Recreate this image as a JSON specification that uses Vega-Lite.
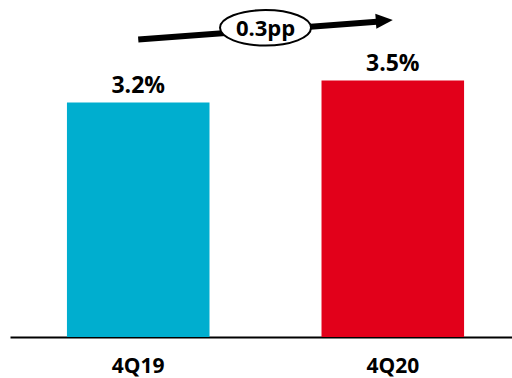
{
  "$schema": "https://vega.github.io/schema/vega-lite/v6.json",
  "width": 502,
  "height": 337,
  "autosize": {"type": "none"},
  "padding": {"left": 10, "right": 0, "top": 0, "bottom": 41},
  "background": "white",
  "config": {
    "view": {"stroke": null},
    "font": "Open Sans"
  },
  "datasets": {
    "rates": [
      {"period": "4Q19", "share": 0.032},
      {"period": "4Q20", "share": 0.035}
    ],
    "shaft": [
      {"pos": 0, "share": 0.04061},
      {"pos": 0.95, "share": 0.04306}
    ],
    "head": [
      {"pos": 1, "share": 0.04327}
    ],
    "badge": [
      {"pos": 0.5, "share": 0.0422, "label": "0.3pp"}
    ]
  },
  "resolve": {"scale": {"x": "independent"}},
  "layer": [
    {
      "data": {"name": "rates"},
      "encoding": {
        "x": {
          "field": "period",
          "type": "nominal",
          "sort": null,
          "scale": {"paddingInner": 0.44, "paddingOuter": 0.206, "align": 0.543},
          "axis": {
            "title": null,
            "labelAngle": 0,
            "labelFont": "Open Sans",
            "labelFontSize": 21,
            "labelFontWeight": "bold",
            "labelColor": "#000000",
            "labelPadding": 18,
            "ticks": false,
            "tickSize": 0,
            "domainColor": "#000000",
            "domainWidth": 2,
            "grid": false
          }
        },
        "y": {
          "field": "share",
          "type": "quantitative",
          "scale": {"domain": [0, 0.046], "nice": false, "zero": true},
          "axis": null
        }
      },
      "layer": [
        {
          "mark": {"type": "bar"},
          "encoding": {
            "color": {
              "field": "period",
              "type": "nominal",
              "scale": {"domain": ["4Q19", "4Q20"], "range": ["#00AECF", "#E2001A"]},
              "legend": null
            }
          }
        },
        {
          "mark": {
            "type": "text",
            "font": "Open Sans",
            "fontSize": 23,
            "fontWeight": "bold",
            "color": "#000000",
            "baseline": "alphabetic",
            "dy": -10
          },
          "encoding": {
            "text": {"field": "share", "type": "quantitative", "format": ".1%"}
          }
        }
      ]
    },
    {
      "encoding": {
        "x": {
          "field": "pos",
          "type": "quantitative",
          "scale": {"domain": [-0.5038, 1.4683], "nice": false, "zero": false},
          "axis": null
        },
        "y": {
          "field": "share",
          "type": "quantitative",
          "scale": {"domain": [0, 0.046], "nice": false, "zero": true},
          "axis": null
        }
      },
      "layer": [
        {
          "data": {"name": "shaft"},
          "mark": {"type": "line", "color": "#000000", "strokeWidth": 6, "strokeCap": "butt"}
        },
        {
          "data": {"name": "head"},
          "mark": {
            "type": "point",
            "shape": "M0,0L-2,-0.88L-2,0.88Z",
            "size": 289,
            "angle": 356,
            "filled": true,
            "color": "#000000",
            "opacity": 1
          }
        },
        {
          "data": {"name": "badge"},
          "mark": {
            "type": "point",
            "shape": "M-1,0A1,0.39,0,1,1,1,0A1,0.39,0,1,1,-1,0Z",
            "size": 8281,
            "filled": false,
            "fill": "#ffffff",
            "fillOpacity": 1,
            "stroke": "#000000",
            "strokeWidth": 2,
            "opacity": 1
          }
        },
        {
          "data": {"name": "badge"},
          "mark": {
            "type": "text",
            "font": "Open Sans",
            "fontSize": 22,
            "fontWeight": "bold",
            "color": "#000000",
            "baseline": "middle",
            "align": "center",
            "dy": 1
          },
          "encoding": {
            "text": {"field": "label", "type": "nominal"}
          }
        }
      ]
    }
  ]
}
